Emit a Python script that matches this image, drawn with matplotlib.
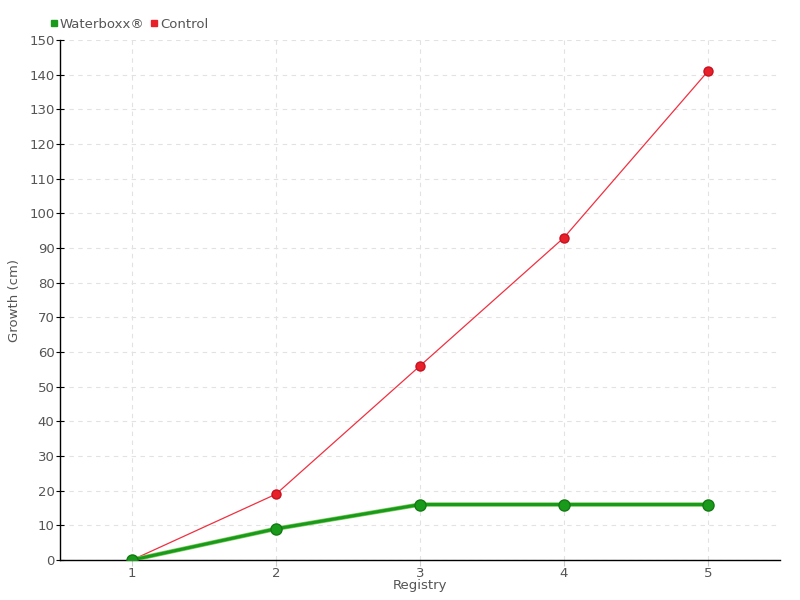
import matplotlib.pyplot as plt
from matplotlib.lines import Line2D

registry = [1, 2, 3, 4, 5]
waterboxx = [0, 9, 16, 16, 16]
control = [0, 19, 56, 93, 141]
yticks = list(range(0, 151, 10))

green = '#1a9a1a'
red = '#e8202a'
text_c = '#555555'

plt.rcParams['font.family'] = ['DejaVu Sans']

fig = plt.figure(figsize=(8, 6), dpi=100)
ax = fig.add_axes([0.075, 1 - 560 / 600, 0.9, 520 / 600])

ax.plot(registry, control, color='#f03040', lw=0.9, marker='o', ms=6.5,
        mfc=red, mec='#c81020', zorder=3)
ax.plot(registry, waterboxx, color='#7ccc5c', lw=3.2, zorder=4)
ax.plot(registry, waterboxx, color=green, lw=2.2, marker='o', ms=8,
        mfc=green, mec='#137a13', zorder=5)

ax.set_xlim(0.5, 5.5)
ax.set_ylim(0, 150)
ax.set_xticks(registry)
ax.set_yticks(yticks)
ax.grid(True, color='#e2e2e2', ls=(0, (4, 4)), lw=0.8)
ax.set_axisbelow(True)
for s in ['top', 'right']:
    ax.spines[s].set_visible(False)
ax.spines['left'].set_linewidth(1)
ax.spines['bottom'].set_linewidth(1)
ax.tick_params(axis='y', direction='inout', length=6, labelsize=9.5,
               labelcolor=text_c, color='black', pad=1)
ax.tick_params(axis='x', direction='out', length=4, labelsize=9.5,
               labelcolor=text_c, color='#cccccc', pad=1)

ax.set_xlabel('Registry', fontsize=9.5, color=text_c, labelpad=-1)
ax.set_ylabel('Growth (cm)', fontsize=9.5, color=text_c, labelpad=6)

handles = [Line2D([], [], ls='', marker='s', ms=4.5, color=green),
           Line2D([], [], ls='', marker='s', ms=4.5, color=red)]
fig.legend(handles, ['Waterboxx®', 'Control'], loc='upper left',
           bbox_to_anchor=(0.048, 0.99), ncol=2, frameon=False,
           fontsize=9.5, handlelength=0.5, handletextpad=0.2,
           columnspacing=0.5, labelcolor=text_c)

fig.savefig('out.png', dpi=100)
